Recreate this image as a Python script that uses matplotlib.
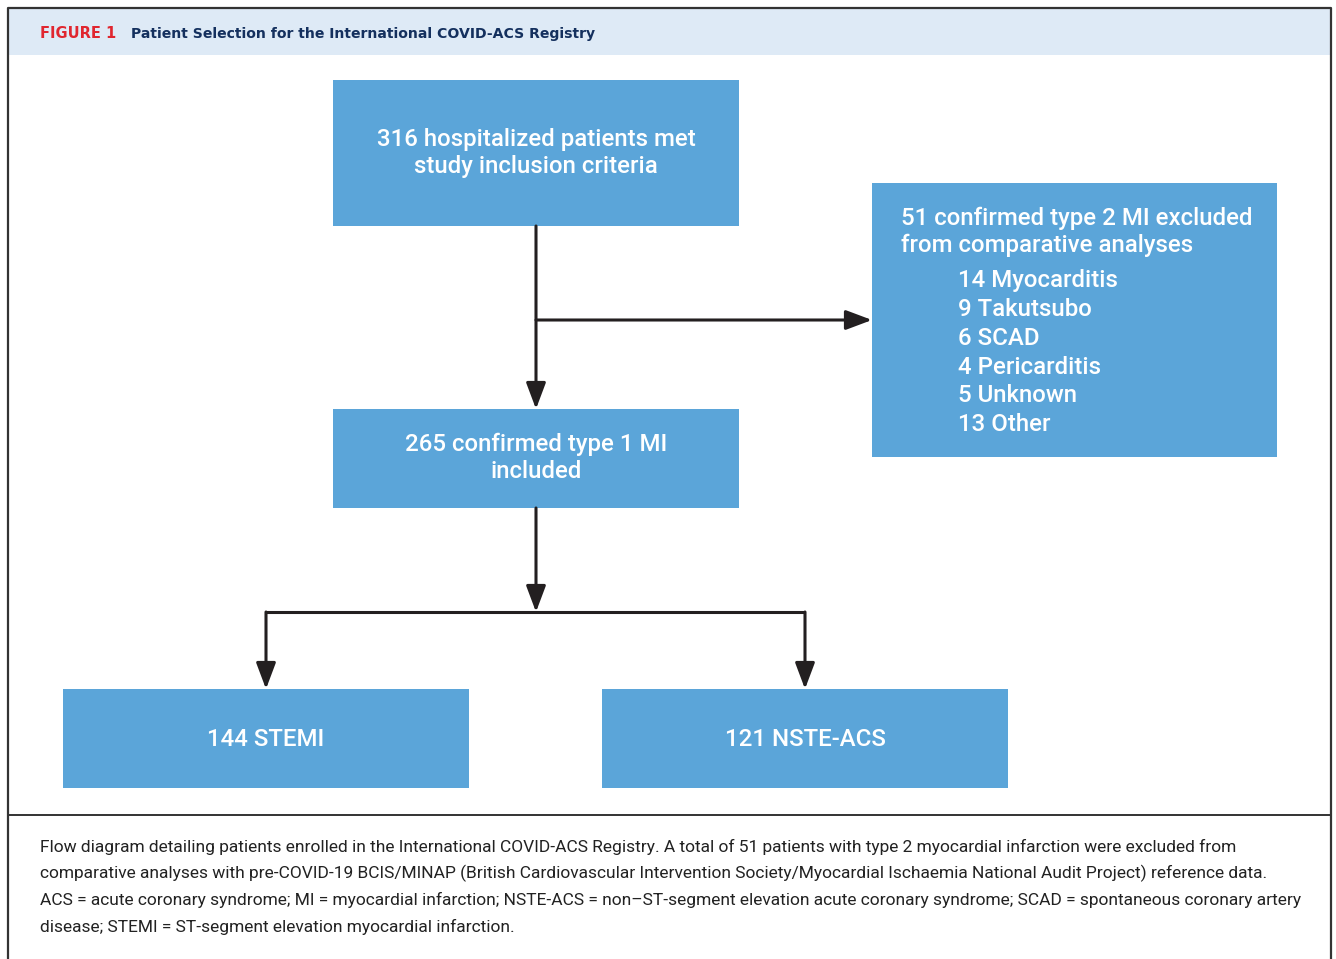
import matplotlib
matplotlib.use("Agg")
import matplotlib.pyplot as plt
from matplotlib.patches import Rectangle

# flow counts
total_n = 316
type1_n = 265
type2_n = 51
stemi_n = 144
nste_n = 121
excl_labels = ["Myocarditis", "Takutsubo", "SCAD", "Pericarditis", "Unknown", "Other"]
excl_counts = [14, 9, 6, 4, 5, 13]

fig_title = "Patient Selection for the International COVID-ACS Registry"
caption_lines = [
    "Flow diagram detailing patients enrolled in the International COVID-ACS Registry. A total of 51 patients with type 2 myocardial infarction were excluded from",
    "comparative analyses with pre-COVID-19 BCIS/MINAP (British Cardiovascular Intervention Society/Myocardial Ischaemia National Audit Project) reference data.",
    "ACS = acute coronary syndrome; MI = myocardial infarction; NSTE-ACS = non\u2013ST-segment elevation acute coronary syndrome; SCAD = spontaneous coronary artery",
    "disease; STEMI = ST-segment elevation myocardial infarction.",
]

BOX = "#5ba5d9"
INK = "#231f20"
BOX_FONT = ["Roboto", "DejaVu Sans"]
CAP_FONT = ["Roboto", "DejaVu Sans"]

fig = plt.figure(figsize=(13.36, 9.59), dpi=100)
ax = fig.add_axes([0, 0, 1, 1])
ax.set_xlim(0, 1336)
ax.set_ylim(959, 0)
ax.axis("off")

# frame and header band
ax.add_patch(Rectangle((8, 8), 1323, 47, color="#deeaf6", lw=0))
ax.plot([8, 8, 1331, 1331], [959, 8, 8, 959], color="#333333", lw=1.6)
ax.plot([8, 1331], [815, 815], color="#333333", lw=1.4)
ax.text(40, 34, "FIGURE 1", color="#e0262f", fontsize=10.5, fontweight="bold",
        va="center", family="DejaVu Sans")
ax.text(131, 34, fig_title, color="#14305e", fontsize=10.1, fontweight="bold",
        va="center", family="DejaVu Sans")


def box(x, y, w, h):
    ax.add_patch(Rectangle((x, y), w, h, color=BOX, lw=0))


def arrow(x0, y0, x1, y1):
    ax.annotate("", xy=(x1, y1), xytext=(x0, y0),
                arrowprops=dict(arrowstyle="-|>,head_length=0.8,head_width=0.3",
                                mutation_scale=20, lw=2.2, color=INK,
                                shrinkA=0, shrinkB=0))


def line(xs, ys):
    ax.plot(xs, ys, color=INK, lw=2.2, solid_capstyle="butt")


# boxes
box(333, 80, 406, 146)
box(872, 183, 405, 274)
box(333, 409, 406, 99)
box(63, 689, 406, 99)
box(602, 689, 406, 99)

fs = 17.3
kw = dict(color="white", fontsize=fs, fontweight="medium", family=BOX_FONT,
          va="center", linespacing=1.24)
ax.text(536, 153, f"{total_n} hospitalized patients met\nstudy inclusion criteria",
        ha="center", **kw)
ax.text(536, 458, f"{type1_n} confirmed type 1 MI\nincluded", ha="center", **kw)
ax.text(266, 740, f"{stemi_n} STEMI", ha="center", **kw)
ax.text(805, 740, f"{nste_n} NSTE-ACS", ha="center", **kw)
ax.text(901, 232, f"{type2_n} confirmed type 2 MI excluded\nfrom comparative analyses",
        ha="left", **kw)
for i, (n, lab) in enumerate(zip(excl_counts, excl_labels)):
    ax.text(958, 281 + i * 28.7, f"{n} {lab}", ha="left", **kw)

# connectors
arrow(536, 226, 536, 409)
arrow(536, 320, 872, 320)
arrow(536, 508, 536, 612)
line([266, 805], [612, 612])
arrow(266, 612, 266, 689)
arrow(805, 612, 805, 689)

# caption
for i, s in enumerate(caption_lines):
    ax.text(40, 847 + i * 26.7, s, fontsize=12.5, color="#222222",
            va="center", ha="left", family=CAP_FONT)

fig.savefig("out.png", dpi=100)
